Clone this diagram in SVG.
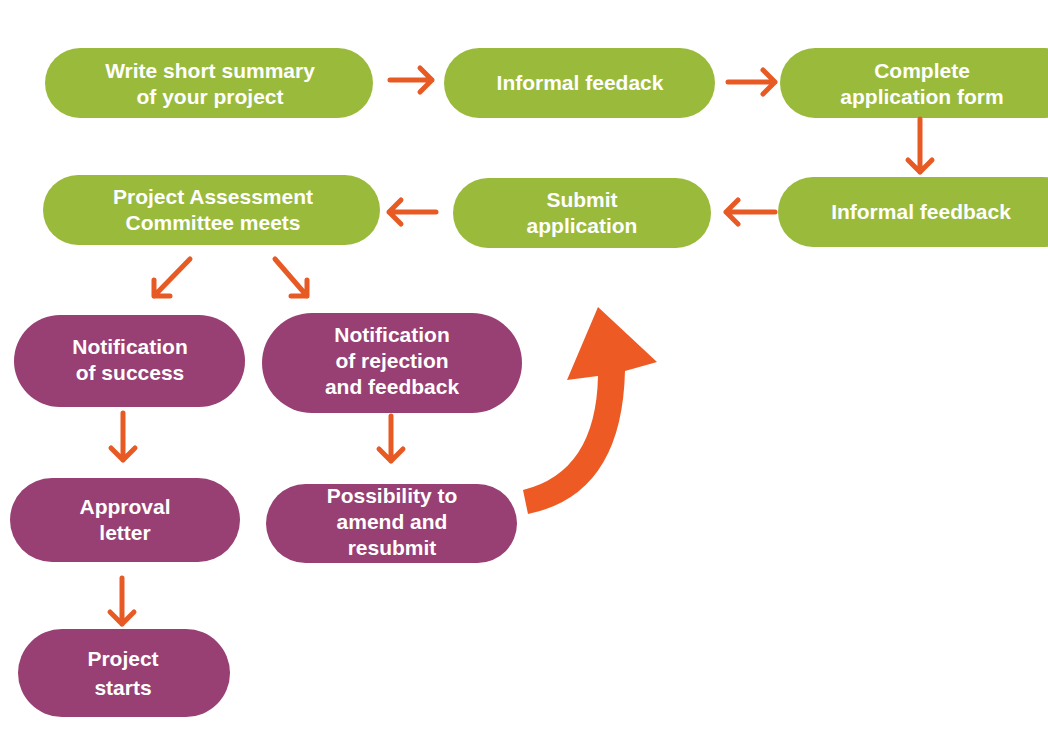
<svg xmlns="http://www.w3.org/2000/svg" width="1048" height="738" viewBox="0 0 1048 738">
<style>
.g{fill:#9aba3c}
.p{fill:#983f73}
.t{font-family:"Liberation Sans",Arial,sans-serif;font-weight:700;font-size:21px;fill:#ffffff;text-anchor:middle}
.arr{stroke:#e85a24;stroke-width:5;fill:none;stroke-linecap:round;stroke-linejoin:round}
</style>
<rect width="1048" height="738" fill="#ffffff"/>
<g id="n1"><rect class="g" x="45" y="48" width="328" height="70" rx="35"/><text class="t" x="210" y="78">Write short summary</text><text class="t" x="210" y="104">of your project</text></g>
<g id="n2"><rect class="g" x="444" y="48" width="271" height="70" rx="35"/><text class="t" x="580" y="90">Informal feedack</text></g>
<g id="n3"><rect class="g" x="780" y="48" width="300" height="70" rx="35"/><text class="t" x="922" y="78">Complete</text><text class="t" x="922" y="104">application form</text></g>
<g id="n4"><rect class="g" x="778" y="177" width="300" height="70" rx="35"/><text class="t" x="921" y="219">Informal feedback</text></g>
<g id="n5"><rect class="g" x="453" y="178" width="258" height="70" rx="35"/><text class="t" x="582" y="207">Submit</text><text class="t" x="582" y="233">application</text></g>
<g id="n6"><rect class="g" x="43" y="175" width="337" height="70" rx="35"/><text class="t" x="213" y="204">Project Assessment</text><text class="t" x="213" y="230">Committee meets</text></g>
<g id="n7"><rect class="p" x="14" y="315" width="231" height="92" rx="46"/><text class="t" x="130" y="354">Notification</text><text class="t" x="130" y="380">of success</text></g>
<g id="n8"><rect class="p" x="262" y="313" width="260" height="100" rx="50"/><text class="t" x="392" y="342">Notification</text><text class="t" x="392" y="368">of rejection</text><text class="t" x="392" y="394">and feedback</text></g>
<g id="n9"><rect class="p" x="10" y="478" width="230" height="84" rx="42"/><text class="t" x="125" y="514">Approval</text><text class="t" x="125" y="540">letter</text></g>
<g id="n10"><rect class="p" x="266" y="484" width="251" height="79" rx="39.5"/><text class="t" x="392" y="503">Possibility to</text><text class="t" x="392" y="529">amend and</text><text class="t" x="392" y="555">resubmit</text></g>
<g id="n11"><rect class="p" x="18" y="629" width="212" height="88" rx="44"/><text class="t" x="123" y="666">Project</text><text class="t" x="123" y="695">starts</text></g>
<g id="connectors">
<path class="arr" d="M390 80 H432 M420 68 L432 80 L420 92"/>
<path class="arr" d="M728 82 H775 M763 70 L775 82 L763 94"/>
<path class="arr" d="M920 119 V172 M908 160 L920 172 L932 160"/>
<path class="arr" d="M775 212 H726 M738 200 L726 212 L738 224"/>
<path class="arr" d="M436 212 H389 M401 200 L389 212 L401 224"/>
<path class="arr" d="M190 259 L154 296 M154 280 L154 296 L170 296"/>
<path class="arr" d="M275 259 L307 296 M307 280 L307 296 L291 296"/>
<path class="arr" d="M123 413 V460 M111 448 L123 460 L135 448"/>
<path class="arr" d="M391 416 V461 M379 449 L391 461 L403 449"/>
<path class="arr" d="M122 578 V624 M110 612 L122 624 L134 612"/>
<path fill="#ed5a24" d="M523 490 Q596 472 598 376 L567 380 L598 307 L657 362 L625 371 Q622 495 528 514 Z"/>
</g>
</svg>
